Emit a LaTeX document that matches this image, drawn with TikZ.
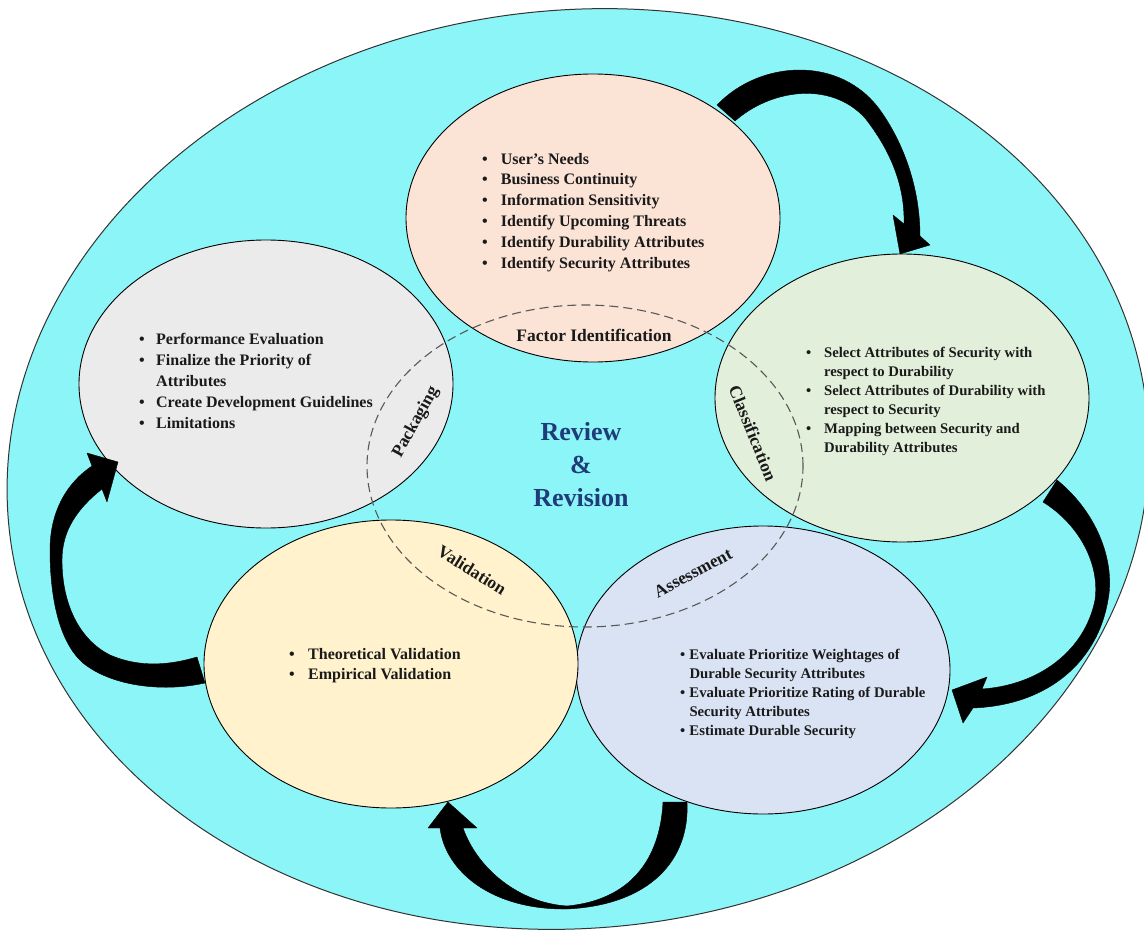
\documentclass[tikz,border=0pt]{standalone}
\usepackage{fontspec}
\setmainfont{Liberation Serif}
\usetikzlibrary{shapes.geometric}

\definecolor{ringcyan}{HTML}{8CF5F8}
\definecolor{peach}{HTML}{FBE3D6}
\definecolor{sage}{HTML}{E2EFDA}
\definecolor{lav}{HTML}{DAE3F3}
\definecolor{cream}{HTML}{FFF2CC}
\definecolor{pale}{HTML}{EBEBEB}
\definecolor{navy}{HTML}{1F3C78}
\definecolor{ink}{HTML}{1A1A1A}

% bullet followed by a fixed indent
\newcommand\bul[1]{\makebox[#1][l]{\textbullet}}

\begin{document}
\begin{tikzpicture}[x=1pt,y=-1pt,
  phase/.style={ellipse, draw=black, line width=0.9pt,
    minimum width=374pt, minimum height=288pt, inner sep=0pt},
  blockarrow/.style={fill=black, draw=black, line width=0.4pt, line join=round},
  phaselabel/.style={font=\fontsize{17.5}{20}\selectfont\bfseries, text=ink, inner sep=0pt},
  bullets/.style={anchor=base west, inner sep=0pt, text=ink}]

\useasboundingbox (0,0) rectangle (1144,937);

% outer review ring
\node[ellipse, draw=black!80, line width=1pt, fill=ringcyan,
      minimum width=1144pt, minimum height=918pt, inner sep=0pt, rotate=5.9]
      (frame) at (578,469) {};

% the five phases
\node[phase, fill=peach] (fi) at (593,218) {};
\node[phase, fill=sage]  (cl) at (902,398) {};
\node[phase, fill=lav]   (as) at (763,670) {};
\node[phase, fill=cream] (va) at (391,664) {};
\node[phase, fill=pale]  (pk) at (266,384) {};

% curved block arrows between the phases
\path[blockarrow] (735,121) -- (717,105)
  .. controls (760,60) and (840,55) .. (880,110)
  .. controls (905,145) and (920,190) .. (920,236)
  -- (930,245) -- (900,254) -- (893,215) -- (904,224)
  .. controls (905,185) and (890,150) .. (865,118)
  .. controls (830,80) and (770,90) .. (735,121) -- cycle;

\path[blockarrow] (1043,502) -- (1057,480)
  .. controls (1100,515) and (1115,565) .. (1108,600)
  .. controls (1098,660) and (1050,705) .. (973,708)
  -- (963,723) -- (952,690) -- (987,677) -- (982,689)
  .. controls (1040,685) and (1085,650) .. (1095,600)
  .. controls (1100,565) and (1080,525) .. (1043,502) -- cycle;

\path[blockarrow] (663,802) -- (687,802)
  .. controls (690,860) and (650,905) .. (567,909)
  .. controls (490,910) and (445,870) .. (440,828)
  -- (428,828) -- (448,802) -- (477,828) -- (463,828)
  .. controls (478,870) and (520,903) .. (567,906)
  .. controls (630,900) and (660,860) .. (663,802) -- cycle;

\path[blockarrow] (197,657) -- (205,683)
  .. controls (160,693) and (110,685) .. (83,663)
  .. controls (60,643) and (50,600) .. (50,550)
  .. controls (50,510) and (68,482) .. (92,466)
  -- (87,453) -- (118,462) -- (107,502) -- (102,489)
  .. controls (78,508) and (62,530) .. (62,560)
  .. controls (62,605) and (80,640) .. (110,655)
  .. controls (140,668) and (170,665) .. (197,657) -- cycle;

% dashed review core
\node[ellipse, draw=black!65, line width=1.1pt, dash pattern=on 9pt off 5pt,
      minimum width=436pt, minimum height=322pt, inner sep=0pt] (core) at (585,466) {};

% centre title
\node[font=\fontsize{26}{33}\selectfont\bfseries, text=navy, align=center]
      (rr) at (581,465) {Review\\\&\\Revision};

% phase names
\node[phaselabel] (lfi) at (594,335) {Factor Identification};
\node[phaselabel, rotate=-68] (lcl) at (753,433) {Classification};
\node[phaselabel, rotate=28]  (las) at (693,573) {Assessment};
\node[phaselabel, rotate=-32] (lva) at (472,570) {Validation};
\node[phaselabel, rotate=61]  (lpk) at (416,422) {Packaging};

% bullet lists
\node[bullets] (tfi) at (482,164) {\parbox[t]{280pt}{\fontsize{16}{20.8}\selectfont\bfseries
\bul{18.7pt}User’s Needs\\
\bul{18.7pt}Business Continuity\\
\bul{18.7pt}Information Sensitivity\\
\bul{18.7pt}Identify Upcoming Threats\\
\bul{18.7pt}Identify Durability  Attributes\\
\bul{18.7pt}Identify Security Attributes}};

\node[bullets] (tcl) at (806,357) {\parbox[t]{280pt}{\fontsize{14.7}{19}\selectfont\bfseries
\bul{18pt}Select Attributes of Security with\\
\hspace*{18pt}respect to Durability\\
\bul{18pt}Select Attributes of Durability  with\\
\hspace*{18pt}respect to Security\\
\bul{18pt}Mapping between Security and\\
\hspace*{18pt}Durability  Attributes}};

\node[bullets] (tas) at (680,659) {\parbox[t]{280pt}{\fontsize{14.7}{19}\selectfont\bfseries
\bul{9.3pt}Evaluate Prioritize  Weightages of\\
\hspace*{9.3pt}Durable Security Attributes\\
\bul{9.3pt}Evaluate Prioritize  Rating of Durable\\
\hspace*{9.3pt}Security Attributes\\
\bul{9.3pt}Estimate Durable Security}};

\node[bullets] (tva) at (289,659) {\parbox[t]{280pt}{\fontsize{16}{20}\selectfont\bfseries
\bul{19pt}Theoretical Validation\\
\bul{19pt}Empirical Validation}};

\node[bullets] (tpk) at (139,344) {\parbox[t]{280pt}{\fontsize{16}{21}\selectfont\bfseries
\bul{17pt}Performance Evaluation\\
\bul{17pt}Finalize  the Priority of\\
\hspace*{17pt}Attributes\\
\bul{17pt}Create Development Guidelines\\
\bul{17pt}Limitations}};

\end{tikzpicture}
\end{document}
